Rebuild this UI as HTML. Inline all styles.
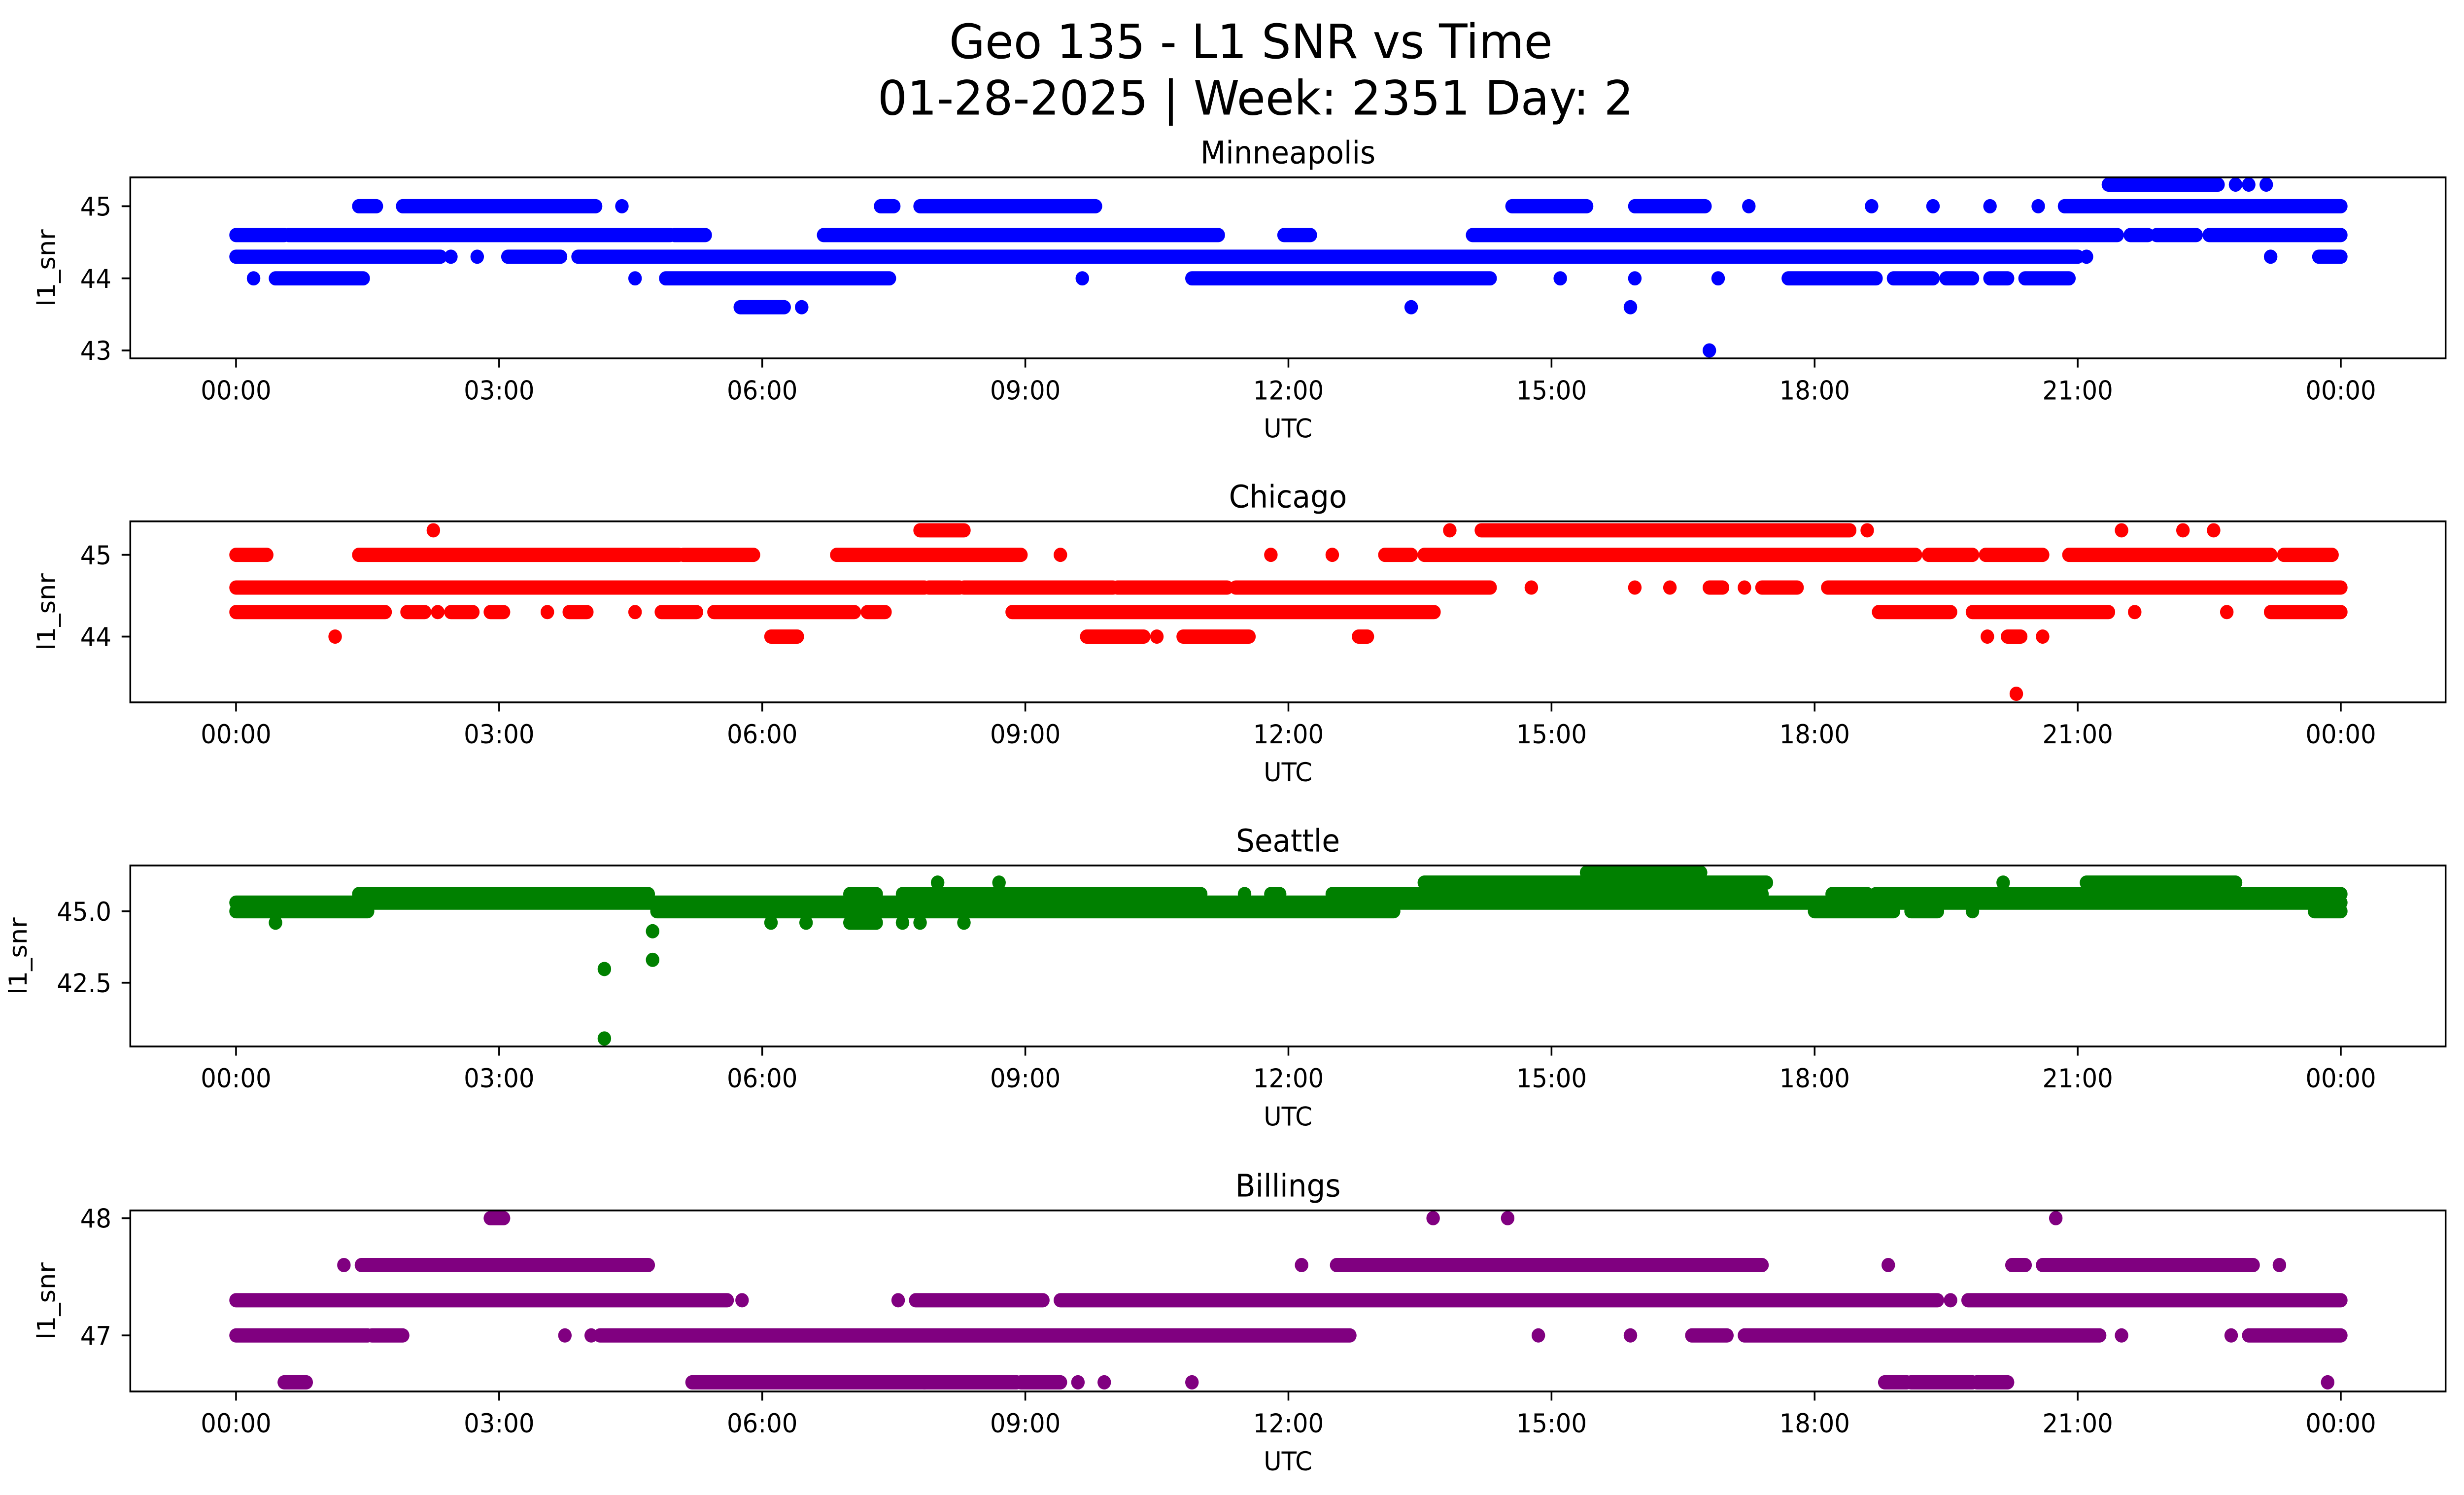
<!DOCTYPE html>
<html><head><meta charset="utf-8"><style>
html,body{margin:0;padding:0;background:#fff;width:100%;height:100%;overflow:hidden;}
svg{display:block;width:100vw;height:100vh;}
text{font-family:"DejaVu Sans","Liberation Sans",sans-serif;fill:#000;}
</style></head><body>
<svg id="chart" xmlns="http://www.w3.org/2000/svg" viewBox="0 0 1568 901" preserveAspectRatio="none">
<rect width="1568" height="901" fill="#fff"/>
<text x="796" y="35" font-size="28.6" text-anchor="middle" textLength="384" lengthAdjust="spacingAndGlyphs">Geo 135 - L1 SNR vs Time</text>
<text x="799" y="69" font-size="28.6" text-anchor="middle" textLength="481" lengthAdjust="spacingAndGlyphs">01-28-2025 | Week: 2351 Day: 2</text>
<g id="panels"></g>
</svg>
<script>
// Each run: [startHour, endHour, snrValue]; a single point has start == end
const titles = ["Minneapolis", "Chicago", "Seattle", "Billings"];
const colors = ["#0000ff", "#ff0000", "#008000", "#800080"];
const xTickHours = [0, 3, 6, 9, 12, 15, 18, 21, 24];
const xTickLabels = ["00:00","03:00","06:00","09:00","12:00","15:00","18:00","21:00","00:00"];
const yTicks1 = [43, 44, 45];
const yTicks2 = [44, 45];
const yTicks3 = [42.5, 45.0];
const yTicks4 = [47, 48];
const yTickLabels3 = ["42.5", "45.0"];
const yDomain1 = [42.89, 45.40];
const yDomain2 = [43.195, 45.41];
const yDomain3 = [40.27, 46.60];
const yDomain4 = [46.522, 48.066];

const runs1 = [
 [21.35,22.6,45.3],[22.8,22.8,45.3],[22.95,22.95,45.3],[23.15,23.15,45.3],
 [1.4,1.6,45],[1.9,4.1,45],[4.4,4.4,45],[7.35,7.5,45],[7.8,9.8,45],
 [14.55,15.4,45],[15.95,16.75,45],[17.25,17.25,45],[18.65,18.65,45],[19.35,19.35,45],[20.0,20.0,45],[20.55,20.55,45],[20.85,24.0,45],
 [0,0.55,44.6],[0.6,4.95,44.6],[5.0,5.35,44.6],[6.7,11.2,44.6],[11.95,12.25,44.6],[14.1,21.45,44.6],[21.6,21.8,44.6],[21.9,22.35,44.6],[22.5,24.0,44.6],
 [0,2.33,44.3],[2.45,2.45,44.3],[2.75,2.75,44.3],[3.1,3.7,44.3],[3.9,21.0,44.3],[21.1,21.1,44.3],[23.2,23.2,44.3],[23.75,24.0,44.3],
 [0.2,0.2,44],[0.45,1.45,44],[4.55,4.55,44],[4.9,7.45,44],[9.65,9.65,44],[10.9,14.3,44],[15.1,15.1,44],[15.95,15.95,44],[16.9,16.9,44],[17.7,18.7,44],[18.9,19.35,44],[19.5,19.8,44],[20.0,20.2,44],[20.4,20.9,44],
 [5.75,6.25,43.6],[6.45,6.45,43.6],[13.4,13.4,43.6],[15.9,15.9,43.6],
 [16.8,16.8,43]
];
const runs2 = [
 [2.25,2.25,45.3],[7.8,8.3,45.3],[13.84,13.84,45.3],[14.2,18.4,45.3],[18.6,18.6,45.3],[21.5,21.5,45.3],[22.2,22.2,45.3],[22.55,22.55,45.3],
 [0,0.35,45],[1.4,5.05,45],[5.1,5.9,45],[6.85,8.95,45],[9.4,9.4,45],[11.8,11.8,45],[12.5,12.5,45],[13.1,13.4,45],[13.55,19.15,45],[19.3,19.8,45],[19.95,20.6,45],[20.9,23.2,45],[23.35,23.9,45],
 [0,7.85,44.6],[7.9,8.25,44.6],[8.3,10.0,44.6],[10.05,11.3,44.6],[11.4,14.3,44.6],[14.77,14.77,44.6],[15.95,15.95,44.6],[16.35,16.35,44.6],[16.8,16.95,44.6],[17.2,17.2,44.6],[17.4,17.8,44.6],[18.15,24.0,44.6],
 [0,1.7,44.3],[1.95,2.15,44.3],[2.3,2.3,44.3],[2.45,2.7,44.3],[2.9,3.05,44.3],[3.55,3.55,44.3],[3.8,4.0,44.3],[4.55,4.55,44.3],[4.85,5.25,44.3],[5.45,7.05,44.3],[7.2,7.4,44.3],[8.85,13.66,44.3],[18.73,19.55,44.3],[19.8,21.35,44.3],[21.65,21.65,44.3],[22.7,22.7,44.3],[23.2,24.0,44.3],
 [1.13,1.13,44],[6.1,6.4,44],[9.7,10.35,44],[10.5,10.5,44],[10.8,11.55,44],[12.8,12.9,44],[19.97,19.97,44],[20.2,20.35,44],[20.6,20.6,44],
 [20.3,20.3,43.3]
];
const runs3 = [
 [0,1.5,45.0],[4.8,13.2,45.0],[18.0,18.9,45.0],[19.1,19.4,45.0],[19.8,19.8,45.0],[23.7,24.0,45.0],
 [0,24.0,45.3],
 [1.4,4.7,45.6],[7.0,7.3,45.6],[7.6,11.0,45.6],[11.5,11.5,45.6],[11.8,11.9,45.6],[12.5,17.4,45.6],[18.2,18.6,45.6],[18.7,24.0,45.6],
 [8.0,8.0,46.0],[8.7,8.7,46.0],[13.55,17.45,46.0],[20.15,20.15,46.0],[21.1,22.8,46.0],
 [15.4,16.7,46.35],
 [0.45,0.45,44.6],[6.1,6.1,44.6],[6.5,6.5,44.6],[7.0,7.3,44.6],[7.6,7.6,44.6],[7.8,7.8,44.6],[8.3,8.3,44.6],
 [4.2,4.2,42.98],[4.2,4.2,40.55],[4.75,4.75,44.3],[4.75,4.75,43.3]
];
const runs4 = [
 [2.9,3.05,48],[13.65,13.65,48],[14.5,14.5,48],[20.75,20.75,48],
 [1.23,1.23,47.6],[1.43,4.7,47.6],[12.15,12.15,47.6],[12.55,17.4,47.6],[18.84,18.84,47.6],[20.25,20.4,47.6],[20.6,23.0,47.6],[23.3,23.3,47.6],
 [0,5.6,47.3],[5.77,5.77,47.3],[7.55,7.55,47.3],[7.75,9.2,47.3],[9.4,19.4,47.3],[19.55,19.55,47.3],[19.75,24.0,47.3],
 [0,1.5,47],[1.55,1.9,47],[3.75,3.75,47],[4.05,4.05,47],[4.15,12.7,47],[14.85,14.85,47],[15.9,15.9,47],[16.6,17.0,47],[17.2,21.25,47],[21.5,21.5,47],[22.75,22.75,47],[22.95,24.0,47],
 [0.55,0.8,46.6],[5.2,7.85,46.6],[7.85,8.9,46.6],[8.95,9.4,46.6],[9.6,9.6,46.6],[9.9,9.9,46.6],[10.9,10.9,46.6],[18.8,19.05,46.6],[19.1,19.8,46.6],[19.85,20.2,46.6],[23.85,23.85,46.6]
];

const allRuns = [runs1, runs2, runs3, runs4];
const allTicks = [yTicks1, yTicks2, yTicks3, yTicks4];
const allTickLabels = [null, null, yTickLabels3, null];
const allDomains = [yDomain1, yDomain2, yDomain3, yDomain4];

const NS = "http://www.w3.org/2000/svg";
const L = 82.9, R = 1556.3, X0 = 150.2, X24 = 1489.6;
const panelTops = [106.9, 314.2, 521.6, 729.5];
const panelH = 109.1;
const ylabelX = [35, 35, 17, 35];
const MR = 4.3;

function xScale(h){ return X0 + (X24 - X0) * h / 24; }
function mk(tag, attrs, parent){
  const e = document.createElementNS(NS, tag);
  for (const k in attrs) e.setAttribute(k, attrs[k]);
  parent.appendChild(e);
  return e;
}
const root = document.getElementById("panels");
for (let p = 0; p < 4; p++) {
  const top = panelTops[p], bot = top + panelH;
  const dom = allDomains[p];
  const yScale = v => bot - (v - dom[0]) / (dom[1] - dom[0]) * panelH;
  const g = mk("g", {}, root);
  
  
  const clipId = "clip" + p;
  const cp = mk("clipPath", {id: clipId}, g);
  mk("rect", {x: L, y: top, width: R - L, height: panelH}, cp);
  const marks = mk("g", {"clip-path": "url(#" + clipId + ")", fill: colors[p], stroke: colors[p]}, g);
  
  
  for (const r of allRuns[p]) {
    const x1 = xScale(r[0]), x2 = xScale(r[1]), y = yScale(r[2]);
    let el;
    if (r[0] === r[1]) {
      el = mk("circle", {cx: x1, cy: y, r: MR, stroke: "none"}, marks);
    } else {
      el = mk("line", {x1: x1, x2: x2, y1: y, y2: y, "stroke-width": MR * 2, "stroke-linecap": "round"}, marks);
    }
    
    
  }
  const frame = mk("rect", {x: L, y: top, width: R - L, height: panelH, fill: "none", stroke: "#000", "stroke-width": 1.1}, g);
  
  
  for (let i = 0; i < xTickHours.length; i++) {
    const x = xScale(xTickHours[i]);
    const tk = mk("line", {x1: x, x2: x, y1: bot, y2: bot + 5.5, stroke: "#000", "stroke-width": 1.1}, g);
    
    
    const t = mk("text", {x: x, y: bot + 24.7, "font-size": 15.6, "text-anchor": "middle"}, g);
    t.textContent = xTickLabels[i];
    
    
  }
  const ticks = allTicks[p];
  for (let i = 0; i < ticks.length; i++) {
    const y = yScale(ticks[i]);
    const tk = mk("line", {x1: L - 5.5, x2: L, y1: y, y2: y, stroke: "#000", "stroke-width": 1.1}, g);
    
    
    const t = mk("text", {x: L - 12, y: y + 5.7, "font-size": 15.6, "text-anchor": "end"}, g);
    t.textContent = allTickLabels[p] ? allTickLabels[p][i] : String(ticks[i]);
    
    
  }
  const tt = mk("text", {x: (L + R) / 2, y: top - 8.4, "font-size": 18.7, "text-anchor": "middle"}, g);
  tt.textContent = titles[p];
  
  
  const xl = mk("text", {x: (L + R) / 2, y: bot + 47.6, "font-size": 15.6, "text-anchor": "middle"}, g);
  xl.textContent = "UTC";
  
  
  const cy = top + panelH / 2;
  const yl = mk("text", {x: ylabelX[p], y: cy, "font-size": 15.6, "text-anchor": "middle", transform: "rotate(-90 " + ylabelX[p] + " " + cy + ")"}, g);
  yl.textContent = "l1_snr";
  
  
}
</script>
</body></html>
